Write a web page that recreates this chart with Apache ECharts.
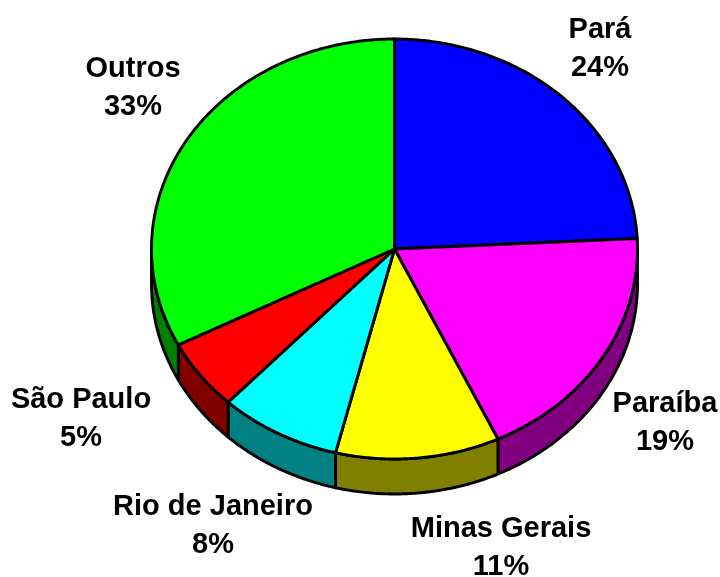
<!DOCTYPE html>
<html>
<head>
<meta charset="utf-8">
<style>html,body{margin:0;padding:0;background:#fff}#c{width:720px;height:577px}</style>
<script src="https://cdn.jsdelivr.net/npm/echarts@6/dist/echarts.min.js"></script>
</head>
<body>
<div id="c"></div>
<script>
const categories = ['Pará', 'Paraíba', 'Minas Gerais', 'Rio de Janeiro', 'São Paulo', 'Outros'];
const percentages = [24.2, 18.8, 10.9, 8.1, 5.45, 32.55];

// Styles and layout
const topColors = ['#0000ff', '#ff00ff', '#ffff00', '#00ffff', '#ff0000', '#00ff00'];
const sideColors = ['#000080', '#800080', '#808000', '#008080', '#800000', '#008000'];
const labelCentres = [[600, 49], [665, 423], [501, 548], [213, 526], [81, 419], [133, 88]];
const PIE = { cx: 394.5, cy: 249, rx: 243, ry: 210, depth: 35 };
const total = percentages.reduce((a, b) => a + b, 0);

function rim(deg, dy) {
  const t = deg * Math.PI / 180;
  return [PIE.cx + PIE.rx * Math.sin(t), PIE.cy - PIE.ry * Math.cos(t) + (dy || 0)];
}
function arc(from, to, dy) {
  const pts = [];
  const n = Math.max(2, Math.ceil((to - from) * 2));
  for (let i = 0; i <= n; i++) pts.push(rim(from + (to - from) * i / n, dy));
  return pts;
}
const line = { stroke: '#000', lineWidth: 2.9, lineJoin: 'round' };

function renderItem(params, api) {
  const i = params.dataIndex;
  let before = 0;
  for (let k = 0; k < i; k++) before += percentages[k];
  const a0 = before / total * 360;
  const a1 = (before + api.value(0)) / total * 360;
  const children = [];
  const s0 = Math.max(a0, 90), s1 = Math.min(a1, 270);
  if (s1 > s0) {
    const front = arc(s0, s1, 0);
    const back = arc(s0, s1, PIE.depth).reverse();
    children.push({
      type: 'polygon', z2: 1,
      shape: { points: front.concat(back) },
      style: Object.assign({ fill: sideColors[i] }, line)
    });
  }
  children.push({
    type: 'polygon', z2: 2,
    shape: { points: [[PIE.cx, PIE.cy]].concat(arc(a0, a1, 0)) },
    style: Object.assign({ fill: topColors[i] }, line)
  });
  children.push({
    type: 'text', z2: 3,
    x: labelCentres[i][0], y: labelCentres[i][1],
    style: {
      text: categories[i] + '\n' + Math.round(percentages[i]) + '%',
      fill: '#000',
      font: 'bold 29px "Liberation Sans", Arial, sans-serif',
      lineHeight: 38.5,
      align: 'center',
      verticalAlign: 'middle'
    }
  });
  return { type: 'group', children: children };
}

const chart = echarts.init(document.getElementById('c'), null, { renderer: 'canvas' });
chart.setOption({
  animation: false,
  backgroundColor: '#fff',
  series: [{
    type: 'custom',
    coordinateSystem: 'none',
    renderItem: renderItem,
    data: percentages.map((v, i) => ({ name: categories[i], value: [v] }))
  }]
});
</script>
</body>
</html>
